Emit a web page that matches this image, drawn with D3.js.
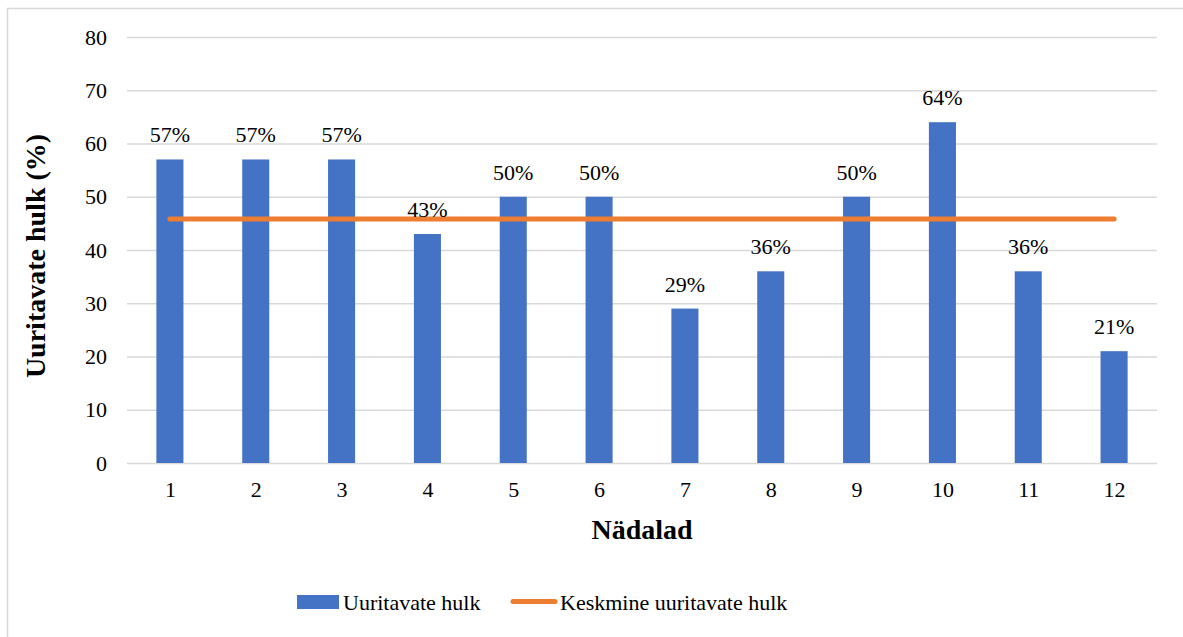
<!DOCTYPE html>
<html>
<head>
<meta charset="utf-8">
<script src="https://cdn.jsdelivr.net/npm/d3@7"></script>
<style>
	body { margin: 0; background: #fff; }
	svg text { font-family: "Liberation Serif", "Times New Roman", serif; fill: #000; }
</style>
</head>
<body>
<div id="chart"></div>
<script>

	/***********************************************************************/
	//Data
	/***********************************************************************/
	const weeks = ['1', '2', '3', '4', '5', '6', '7', '8', '9', '10', '11', '12']
	const shares = [57, 57, 57, 43, 50, 50, 29, 36, 50, 64, 36, 21]
	const yTickValues = [0, 10, 20, 30, 40, 50, 60, 70, 80]
	const seriesNames = ['Uuritavate hulk', 'Keskmine uuritavate hulk']

	const average = d3.mean(shares)
	const serif = '"Liberation Serif", "Times New Roman", serif'

	/***********************************************************************/
	//Plot Area
	/***********************************************************************/
	const width = 1183
	const height = 637
	const margin = { left : 127, right : 26, top : 37, bottom : 174 }

	const plotAreaWidth = width - margin.left - margin.right
	const plotAreaHeight = height - margin.top - margin.bottom

	const svg = d3.select('#chart')
		.append('svg')
		.attr('width', width)
		.attr('height', height)
		.attr('font-family', serif)

	// outer chart border
	svg.append('rect')
		.attr('x', 7.5)
		.attr('y', 8.5)
		.attr('width', width + 10)
		.attr('height', height + 10)
		.attr('fill', 'none')
		.attr('stroke', '#d9d9d9')
		.attr('stroke-width', 1.5)

	const g = svg.append('g')
		.attr('transform', 'translate(' + margin.left + ',' + margin.top + ')')

	/***********************************************************************/
	//Scale
	/***********************************************************************/
	const xScale = d3.scaleBand()
		.domain(weeks)
		.range([0, plotAreaWidth])
		.paddingInner(0.685)
		.paddingOuter(0.34)

	const xCenter = d3.scalePoint()
		.domain(weeks)
		.range([0, plotAreaWidth])
		.padding(0.5)

	const yScale = d3.scaleLinear()
		.domain([0, 80])
		.range([plotAreaHeight, 0])

	/***********************************************************************/
	//Axes
	/***********************************************************************/
	const yAxis = d3.axisLeft(yScale)
		.tickValues(yTickValues)
		.tickSize(-plotAreaWidth)
		.tickPadding(20)

	const yAxisG = g.append('g').call(yAxis).attr('font-family', serif)
	yAxisG.select('.domain').remove()
	yAxisG.selectAll('.tick line')
		.attr('stroke', '#d9d9d9')
		.attr('stroke-width', 1.5)
	yAxisG.selectAll('.tick text')
		.style('font-size', '22px')

	const xAxis = d3.axisBottom(xCenter)
		.tickSize(0)
		.tickPadding(18)

	const xAxisG = g.append('g')
		.attr('transform', 'translate(0,' + plotAreaHeight + ')')
		.call(xAxis)
		.attr('font-family', serif)
	xAxisG.select('.domain').remove()
	xAxisG.selectAll('.tick text')
		.style('font-size', '22px')

	/***********************************************************************/
	//Bars + mean line
	/***********************************************************************/
	g.selectAll('.bar')
		.data(shares)
		.join('rect')
		.attr('class', 'bar')
		.attr('x', (d, i) => xCenter(weeks[i]) - xScale.bandwidth() / 2)
		.attr('y', d => yScale(d))
		.attr('width', xScale.bandwidth())
		.attr('height', d => plotAreaHeight - yScale(d))
		.attr('fill', '#4472c4')

	g.append('path')
		.datum(weeks)
		.attr('fill', 'none')
		.attr('stroke', '#ed7d31')
		.attr('stroke-width', 5)
		.attr('stroke-linecap', 'round')
		.attr('d', d3.line().x(w => xCenter(w)).y(() => yScale(average)))

	g.selectAll('.bar-label')
		.data(shares)
		.join('text')
		.attr('class', 'bar-label')
		.attr('x', (d, i) => xCenter(weeks[i]))
		.attr('y', d => yScale(d) - 17)
		.attr('text-anchor', 'middle')
		.style('font-family', serif)
		.style('font-size', '22px')
		.text(d => d + '%')

	/***********************************************************************/
	//Titles
	/***********************************************************************/
	svg.append('text')
		.attr('x', margin.left + plotAreaWidth / 2)
		.attr('y', 539)
		.attr('text-anchor', 'middle')
		.style('font-size', '28px')
		.style('font-weight', 'bold')
		.text('Nädalad')

	svg.append('text')
		.attr('transform', 'translate(45,' + (margin.top + plotAreaHeight / 2 + 6) + ') rotate(-90)')
		.attr('text-anchor', 'middle')
		.style('font-size', '28px')
		.style('font-weight', 'bold')
		.text('Uuritavate hulk (%)')

	/***********************************************************************/
	//Legend
	/***********************************************************************/
	const legend = svg.append('g')

	legend.append('rect')
		.attr('x', 297)
		.attr('y', 595)
		.attr('width', 42)
		.attr('height', 14)
		.attr('fill', '#4472c4')

	legend.append('text')
		.attr('x', 343)
		.attr('y', 610)
		.style('font-size', '22px')
		.text(seriesNames[0])

	legend.append('line')
		.attr('x1', 513)
		.attr('x2', 555)
		.attr('y1', 601.5)
		.attr('y2', 601.5)
		.attr('stroke', '#ed7d31')
		.attr('stroke-width', 5)
		.attr('stroke-linecap', 'round')

	legend.append('text')
		.attr('x', 560)
		.attr('y', 610)
		.style('font-size', '22px')
		.text(seriesNames[1])

</script>
</body>
</html>
